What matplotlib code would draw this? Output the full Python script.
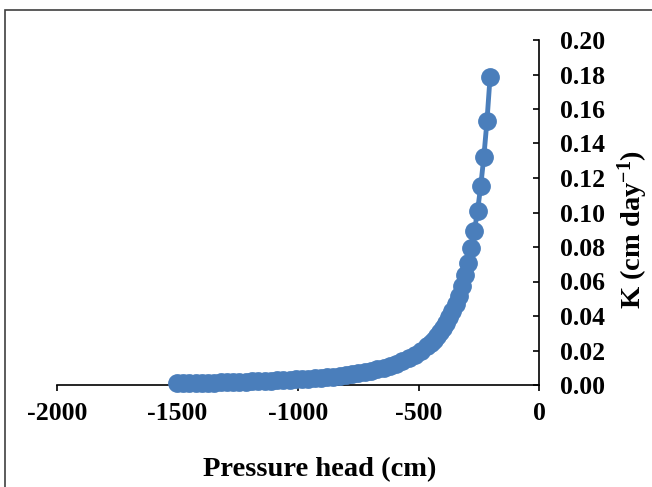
import matplotlib
matplotlib.use("Agg")
import matplotlib.pyplot as plt
from matplotlib.patches import Rectangle
from matplotlib.ticker import FormatStrFormatter

plt.rcParams['font.family'] = ['Liberation Serif', 'DejaVu Serif']
plt.rcParams['font.weight'] = 'bold'
plt.rcParams['axes.unicode_minus'] = False
plt.rcParams['mathtext.fontset'] = 'custom'
plt.rcParams['mathtext.rm'] = 'Liberation Serif:bold'
plt.rcParams['mathtext.bf'] = 'Liberation Serif:bold'
plt.rcParams['mathtext.default'] = 'bf'

# pressure head (cm) and hydraulic conductivity (cm/day)
head = [-203, -216, -229, -242, -255, -268, -281, -294, -307, -320,
        -333, -346, -359, -372, -385, -398, -411, -424, -437, -450,
        -463, -489, -515, -541, -567, -593, -619, -645, -671, -697,
        -723, -749, -775, -801, -827, -853, -879, -905, -931, -957,
        -983, -1009, -1035, -1061, -1087, -1113, -1139, -1165, -1191, -1217,
        -1243, -1269, -1295, -1321, -1347, -1373, -1399, -1425, -1451, -1477,
        -1503]
cond = [0.1786, 0.1529, 0.1321, 0.1151, 0.1010, 0.0892, 0.0792, 0.0708, 0.0635, 0.0573,
        0.0518, 0.0471, 0.0429, 0.0393, 0.0361, 0.0332, 0.0306, 0.0283, 0.0263, 0.0244,
        0.0227, 0.0198, 0.0174, 0.0154, 0.0137, 0.0122, 0.0110, 0.0099, 0.0090, 0.0082,
        0.0075, 0.0068, 0.0063, 0.0058, 0.0053, 0.0049, 0.0046, 0.0043, 0.0040, 0.0037,
        0.0035, 0.0032, 0.0030, 0.0029, 0.0027, 0.0025, 0.0024, 0.0023, 0.0021, 0.0020,
        0.0018, 0.0017, 0.0016, 0.0015, 0.0014, 0.0013, 0.0012, 0.0011, 0.0011, 0.0010,
        0.0009]

xticks = [-2000, -1500, -1000, -500, 0]
yticks = [0.00, 0.02, 0.04, 0.06, 0.08, 0.10, 0.12, 0.14, 0.16, 0.18, 0.20]

fig = plt.figure(figsize=(6.52, 4.87), dpi=100)
ax = fig.add_axes([57 / 652, 1 - 385 / 487, 482 / 652, 345 / 487])

ax.plot(head, cond, '-o', color='#4A7EBB', lw=3.5, ms=12.5, mec='#4A7EBB', clip_on=False, zorder=3)

ax.set_xlim(-2000, 0)
ax.set_ylim(0, 0.20)
ax.set_xticks(xticks)
ax.set_yticks(yticks)
ax.yaxis.set_major_formatter(FormatStrFormatter('%.2f'))

ax.spines['top'].set_visible(False)
ax.spines['left'].set_visible(False)
for s in ('bottom', 'right'):
    ax.spines[s].set_linewidth(1.2)
    ax.spines[s].set_color('black')

ax.yaxis.tick_right()
ax.yaxis.set_label_position('right')
ax.tick_params(axis='y', direction='in', length=4.5, width=1.2, pad=15, labelsize=18.5)
ax.tick_params(axis='x', direction='out', length=4.5, width=1.2, pad=8, labelsize=18.5)

ax.set_xlabel('Pressure head (cm)', fontsize=20.5, fontweight='bold')
ax.set_ylabel(r'K (cm day$^{-1}$)', fontsize=20.5, fontweight='bold')
ax.xaxis.set_label_coords(0.546, -0.21)
ax.yaxis.set_label_coords(1.158, 0.452)

fig.patches.append(Rectangle((5 / 652, -0.2), 2, 1.2 - 10 / 487, transform=fig.transFigure,
                             fill=False, edgecolor='#404040', lw=1.2))

fig.savefig('out.png', dpi=100)
